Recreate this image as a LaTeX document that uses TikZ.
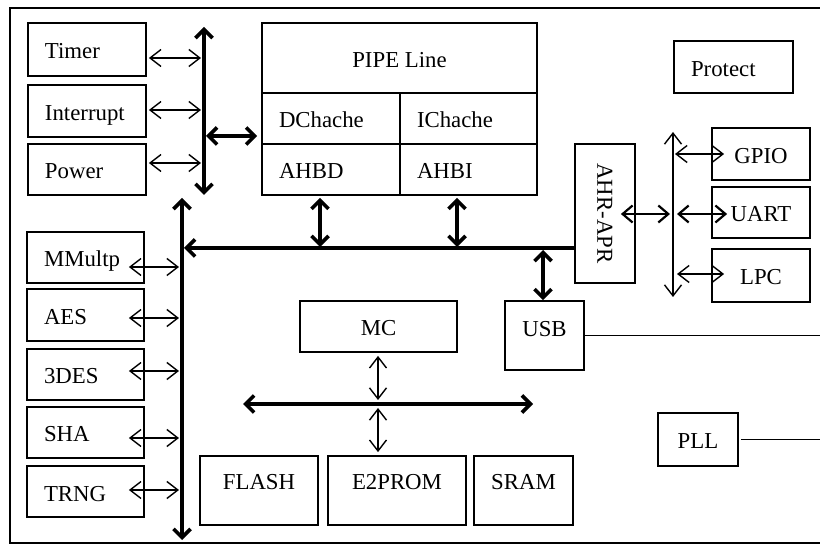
\documentclass[tikz,border=0pt]{standalone}
\usepackage{fontspec}
\setmainfont{Liberation Serif}
\usetikzlibrary{arrows.meta,calc}
\begin{document}
\begin{tikzpicture}[x=1pt,y=-1pt,
  box/.style={draw, line width=1.8pt, inner sep=0pt, text height=20pt, text depth=1pt, font=\fontsize{22.8}{27}\selectfont},
  lbox/.style={box, align=left, inner xsep=17pt, text width=#1},
  thinarr/.style={line width=1.4pt, {Straight Barb[length=11pt,width=17pt]}-{Straight Barb[length=11pt,width=17pt]}},
  medarr/.style={line width=2.2pt, {Straight Barb[length=10pt,width=17pt]}-{Straight Barb[length=10pt,width=17pt]}},
  thickarr/.style={line width=3.6pt, {Straight Barb[length=8.5pt,width=17pt]}-{Straight Barb[length=8.5pt,width=17pt]}},
  thickone/.style={line width=3.6pt, -{Straight Barb[length=8.5pt,width=17pt]}},
  plain/.style={line width=1.3pt}
]
\useasboundingbox (0,0) rectangle (820,545);
\draw[line width=1.2pt] (820,8) -- (10,8) -- (10,543) -- (820,543);

% upper left boxes
\node[lbox=84, minimum height=53] (timer) at (87,49.5) {Timer};
\node[lbox=84, minimum height=52] (interrupt) at (87,111) {Interrupt};
\node[lbox=84, minimum height=51] (power) at (87,169.5) {Power};
% lower left boxes
\node[lbox=83, minimum height=51] (mmultp) at (85.5,257.5) {MMultp};
\node[lbox=83, minimum height=52] (aes) at (85.5,315) {AES};
\node[lbox=83, minimum height=51] (des) at (85.5,374.5) {3DES};
\node[lbox=83, minimum height=51] (sha) at (85.5,432.5) {SHA};
\node[lbox=83, minimum height=51] (trng) at (85.5,491.5) {TRNG};
% pipeline
\node[box, minimum width=275, minimum height=70] (pipe) at (399.5,58) {PIPE Line};
\node[lbox=104, minimum height=51] (dcache) at (331,118.5) {DChache};
\node[lbox=103, minimum height=51] (icache) at (468.5,118.5) {IChache};
\node[lbox=104, minimum height=51] (ahbd) at (331,169.5) {AHBD};
\node[lbox=103, minimum height=51] (ahbi) at (468.5,169.5) {AHBI};
% right side
\node[lbox=85, minimum height=52] (protect) at (733.5,67) {Protect};
\node[box, minimum width=60, minimum height=139, text height=, text depth=] (ahbapb) at (605,213.5) {\rotatebox{-90}{AHR-APR}};
\node[box, minimum width=98, minimum height=52] (gpio) at (761,154) {GPIO};
\node[box, minimum width=98, minimum height=51] (uart) at (761,212.5) {UART};
\node[box, minimum width=98, minimum height=53] (lpc) at (761,275.5) {LPC};
% memory
\node[box, minimum width=157, minimum height=51] (mc) at (378.5,326.5) {MC};
\node[box, minimum width=79, minimum height=69, text depth=18pt] (usb) at (544.5,335.5) {USB};
\node[box, minimum width=118, minimum height=69, text depth=22pt] (flash) at (259,490.5) {FLASH};
\node[box, minimum width=138, minimum height=69, text depth=22pt] (e2prom) at (397,490.5) {E2PROM};
\node[box, minimum width=99, minimum height=69, text depth=22pt] (sram) at (523.5,490.5) {SRAM};
\node[box, minimum width=80, minimum height=53] (pll) at (698,439.5) {PLL};

% upper bus
\coordinate (ubT) at (204,27);
\coordinate (ubB) at (204,195);
\draw[thickarr] (ubB) -- (ubT);
\coordinate (ubt) at (201,58);
\coordinate (ubi) at (201,110);
\coordinate (ubp) at (201,163);
\draw[thinarr, shorten <=2pt] (timer.east |- ubt) -- (ubt);
\draw[thinarr, shorten <=2pt] (interrupt.east |- ubi) -- (ubi);
\draw[thinarr, shorten <=2pt] (power.east |- ubp) -- (ubp);
\coordinate (up) at (206,136);
\draw[thickarr, shorten >=4pt] (up) -- (up -| pipe.west);

% lower bus
\coordinate (lbT) at (182,198);
\coordinate (lbB) at (182,540);
\draw[thickarr] (lbB) -- (lbT);
\coordinate (mb) at (184,248);
\draw[thickone] (mb -| ahbapb.west) -- (mb);
\coordinate (lbm) at (179,267);
\coordinate (lba) at (179,318);
\coordinate (lbd) at (179,371);
\coordinate (lbs) at (179,438);
\coordinate (lbr) at (179,490);
\draw[thinarr] ($(mmultp.east |- lbm)+(-16,0)$) -- (lbm);
\draw[thinarr] ($(aes.east |- lba)+(-16,0)$) -- (lba);
\draw[thinarr] ($(des.east |- lbd)+(-16,0)$) -- (lbd);
\draw[thinarr] ($(sha.east |- lbs)+(-16,0)$) -- (lbs);
\draw[thinarr] ($(trng.east |- lbr)+(-16,0)$) -- (lbr);

% pipeline to main bus
\coordinate (dA) at (320,247);
\coordinate (iA) at (457,247);
\draw[thickarr, shorten <=2pt] (dA |- ahbd.south) -- (dA);
\draw[thickarr, shorten <=2pt] (iA |- ahbi.south) -- (iA);
\coordinate (uA) at (543,250);
\draw[thickarr] (uA) -- (uA |- usb.north);

% APB bus
\coordinate (apT) at (673,132);
\coordinate (apB) at (673,297);
\draw[thinarr] (apB) -- (apT);
\coordinate (apA) at (670,214);
\draw[medarr] ($(ahbapb.east |- apA)+(-15,0)$) -- (apA);
\coordinate (apG) at (675,154);
\coordinate (apU) at (677,214);
\coordinate (apL) at (677,274);
\draw[thinarr] (apG) -- ($(gpio.west |- apG)+(13,0)$);
\draw[medarr] (apU) -- ($(uart.west |- apU)+(16,0)$);
\draw[thinarr] (apL) -- ($(lpc.west |- apL)+(13,0)$);

% memory bus
\coordinate (hb) at (378,404);
\coordinate (hbL) at (243,404);
\coordinate (hbR) at (533,404);
\draw[thickarr] (hbL) -- (hbR);
\draw[thinarr, shorten <=3pt] (mc.south -| hb) -- ($(hb)+(0,-4)$);
\draw[thinarr, shorten >=3pt] ($(hb)+(0,4)$) -- (e2prom.north -| hb);

% external lines
\coordinate (re) at (820,336);
\draw[plain] (usb.east) -- (usb.east -| re);
\draw[plain, shorten <=2pt] (pll.east) -- (pll.east -| re);
\end{tikzpicture}
\end{document}
